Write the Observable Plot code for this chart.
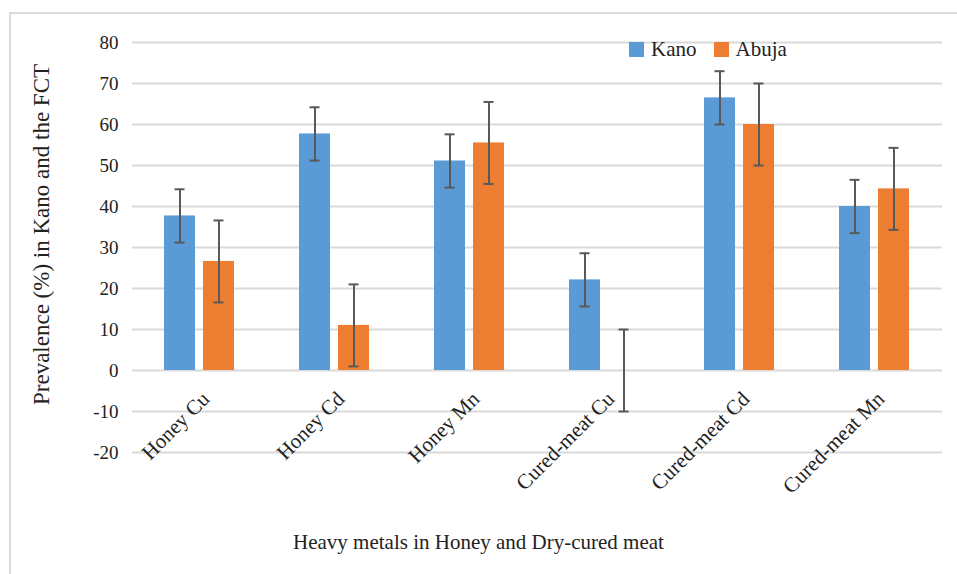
<!DOCTYPE html>
<html>
<head>
<meta charset="utf-8">
<script src="https://cdn.jsdelivr.net/npm/d3@7"></script>
<script src="https://cdn.jsdelivr.net/npm/@observablehq/plot@0.6"></script>
<style>
  body { margin: 0; background: #fff; }
  #wrap { position: relative; width: 957px; height: 574px; overflow: hidden; font-family: "Liberation Serif", serif; }
  #frame { position: absolute; left: 9px; top: 12px; width: 960px; height: 600px; border-left: 2px solid #d9d9d9; border-top: 2px solid #d9d9d9; }
  #legend { position: absolute; left: 629px; top: 33px; }
  #legend, #legend * { font-family: "Liberation Serif", serif !important; font-size: 21px !important; color: #222 !important; }
  #legend svg { margin-right: 7px !important; }
  #legend span { margin-right: 17px !important; }
  #xtitle { position: absolute; left: 0; width: 957px; top: 530px; text-align: center; font-size: 21px; color: #222; }
</style>
</head>
<body>
<div id="wrap">
  <div id="frame"></div>
  <div id="chart"></div>
  <div id="legend"></div>
  <div id="xtitle">Heavy metals in Honey and Dry-cured meat</div>
</div>
<script>
const categories = ["Honey Cu", "Honey Cd", "Honey Mn", "Cured-meat Cu", "Cured-meat Cd", "Cured-meat Mn"];
const series = ["Kano", "Abuja"];
const kano = [37.7, 57.7, 51.1, 22.1, 66.5, 40.0];
const abuja = [26.6, 11.0, 55.5, 0.0, 60.0, 44.3];
const kanoErr = [6.5, 6.5, 6.5, 6.5, 6.5, 6.5];
const abujaErr = [10, 10, 10, 10, 10, 10];
const yTicks = [-20, -10, 0, 10, 20, 30, 40, 50, 60, 70, 80];
const colors = ["#5b9bd5", "#ed7d31"];

const data = [];
categories.forEach((c, i) => {
  data.push({category: c, series: "Kano", value: kano[i], err: kanoErr[i]});
  data.push({category: c, series: "Abuja", value: abuja[i], err: abujaErr[i]});
});

const chart = Plot.plot({
  width: 957,
  height: 574,
  marginLeft: 132,
  marginRight: 15,
  marginTop: 42,
  marginBottom: 122,
  style: {fontFamily: "Liberation Serif, serif", fontSize: "19px", color: "#222", background: "transparent"},
  fx: {domain: categories, padding: 0, label: null, axis: null},
  x: {domain: series, axis: null, paddingInner: 0.205, paddingOuter: 0.833},
  y: {domain: [-20, 80], ticks: yTicks, label: null},
  color: {domain: series, range: colors},
  marks: [
    Plot.gridY(yTicks, {stroke: "#d9d9d9", strokeOpacity: 1, strokeWidth: 2}),
    Plot.axisY({ticks: yTicks, tickSize: 0, tickPadding: 14, fontSize: 19, label: null, tickFormat: d => String(d)}),
    Plot.axisFx({anchor: "bottom", tickRotate: -45, tickSize: 0, tickPadding: 0, fontSize: 21, label: null, textAnchor: "end", dy: -57, dx: 6}),
    Plot.barY(data, {fx: "category", x: "series", y: "value", fill: "series"}),
    Plot.ruleX(data, {fx: "category", x: "series", y1: d => d.value - d.err, y2: d => d.value + d.err, stroke: "#595959", strokeWidth: 2}),
    Plot.tickY(data, {fx: "category", x: "series", y: d => d.value + d.err, stroke: "#595959", strokeWidth: 2, insetLeft: 10.5, insetRight: 10.5}),
    Plot.tickY(data, {fx: "category", x: "series", y: d => d.value - d.err, stroke: "#595959", strokeWidth: 2, insetLeft: 10.5, insetRight: 10.5}),
    Plot.text(["Prevalence (%) in Kano and the FCT"], {frameAnchor: "left", facetAnchor: "left", textAnchor: "middle", dx: -91, dy: -13, rotate: -90, fontSize: 23, fill: "#222"})
  ]
});
document.getElementById("chart").appendChild(chart);

const leg = Plot.legend({
  color: {domain: series, range: colors},
  swatchSize: 15,
  style: {fontFamily: "Liberation Serif, serif", fontSize: "21px"}
});
document.getElementById("legend").appendChild(leg);
</script>
</body>
</html>
